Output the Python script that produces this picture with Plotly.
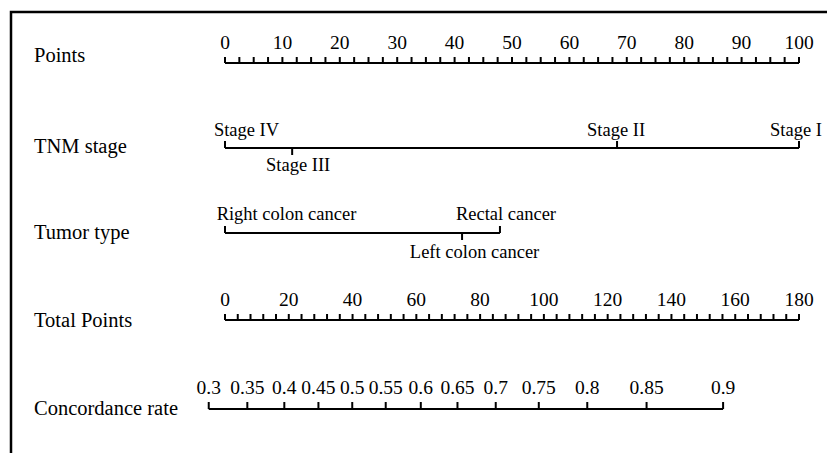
import plotly.graph_objects as go
import numpy as np

# ---------------- data ----------------
row_labels = ["Points", "TNM stage", "Tumor type", "Total Points", "Concordance rate"]

points_labels = [0, 10, 20, 30, 40, 50, 60, 70, 80, 90, 100]
points_minor_step = 2.5

tnm_levels = ["Stage IV", "Stage III", "Stage II", "Stage I"]
tnm_points = [0, 11.7, 68.3, 100]

tumor_levels = ["Right colon cancer", "Left colon cancer", "Rectal cancer"]
tumor_points = [0, 41.3, 47.9]

total_labels = [0, 20, 40, 60, 80, 100, 120, 140, 160, 180]
total_minor_step = 4
total_max = 180

conc_labels = ["0.3", "0.35", "0.4", "0.45", "0.5", "0.55", "0.6", "0.65", "0.7", "0.75", "0.8", "0.85", "0.9"]
conc_total_points = [-5.1, 7.0, 18.6, 29.3, 39.9, 50.4, 61.4, 72.9, 84.9, 98.4, 113.6, 132.2, 156.2]

# ---------------- layout constants (pixels) ----------------
W, H = 827, 453
X0_PX, X100_PX = 225, 799
PX_PER_PT = (X100_PX - X0_PX) / 100.0
FONT = "Liberation Serif"
LBL_SIZE = 20.5
TICK_SIZE = 19.5
CAT_SIZE = 18.5
LW = 2

row_y = {"Points": 63, "TNM stage": 148, "Tumor type": 233, "Total Points": 320, "Concordance rate": 409}
row_label_y = {"Points": 57, "TNM stage": 148, "Tumor type": 234, "Total Points": 322, "Concordance rate": 410}
ROW_LABEL_X = 34

# label centre offsets in px for categorical labels, and above(-1)/below(+1)
tnm_label_dx = [21.5, 6, -1, -3]
tnm_label_side = [-1, 1, -1, -1]
tumor_label_dx = [61.5, 12.5, 6]
tumor_label_side = [-1, 1, -1]


def pxdx(d):
    return d / PX_PER_PT


def tp2pts(tp):
    return np.asarray(tp, dtype=float) * 100.0 / total_max


fig = go.Figure()


def add_line(x0, x1, y):
    fig.add_trace(go.Scatter(x=[x0, x1], y=[y, y], mode="lines",
                             line=dict(color="black", width=LW), hoverinfo="skip", showlegend=False))


def add_ticks(xs, y, length):
    xx, yy = [], []
    for x in xs:
        xx += [x, x, None]
        yy += [y, y + length, None]
    fig.add_trace(go.Scatter(x=xx, y=yy, mode="lines",
                             line=dict(color="black", width=LW), hoverinfo="skip", showlegend=False))


def add_text(xs, ys, texts, size=TICK_SIZE, pos="middle center"):
    fig.add_trace(go.Scatter(x=xs, y=ys, text=texts, mode="text", textposition=pos,
                             textfont=dict(family=FONT, size=size, color="black"),
                             hoverinfo="skip", showlegend=False))


# Points axis
y = row_y["Points"]
add_line(0, 100, y)
add_ticks(np.arange(0, 100 + 1e-9, points_minor_step), y, -6)
add_text(points_labels, [y - 18.5] * len(points_labels), [str(v) for v in points_labels])

# TNM stage
y = row_y["TNM stage"]
add_line(min(tnm_points), max(tnm_points), y)
for p, s in zip(tnm_points, tnm_label_side):
    add_ticks([p], y, 7 * s)
add_text([p + pxdx(d) for p, d in zip(tnm_points, tnm_label_dx)],
         [y + (18 if s > 0 else 17) * s for s in tnm_label_side], tnm_levels, size=CAT_SIZE)

# Tumor type
y = row_y["Tumor type"]
add_line(min(tumor_points), max(tumor_points), y)
for p, s in zip(tumor_points, tumor_label_side):
    add_ticks([p], y, 7 * s)
add_text([p + pxdx(d) for p, d in zip(tumor_points, tumor_label_dx)],
         [y + (20 if s > 0 else 18) * s for s in tumor_label_side], tumor_levels, size=CAT_SIZE)

# Total points
y = row_y["Total Points"]
add_line(0, 100, y)
add_ticks(tp2pts(np.arange(0, total_max + 1e-9, total_minor_step)), y, -6)
add_text(tp2pts(total_labels), [y - 18.5] * len(total_labels), [str(v) for v in total_labels])

# Concordance rate
y = row_y["Concordance rate"]
cx = tp2pts(conc_total_points)
add_line(cx[0], cx[-1], y)
add_ticks(cx, y, -7)
add_text(cx, [y - 19.5] * len(cx), conc_labels)

# Row labels
add_text([pxdx(ROW_LABEL_X - X0_PX)] * len(row_labels), [row_label_y[r] for r in row_labels],
         row_labels, size=LBL_SIZE, pos="middle right")

fig.update_layout(
    width=W, height=H,
    margin=dict(l=0, r=0, t=0, b=0),
    paper_bgcolor="white", plot_bgcolor="white",
    xaxis=dict(range=[pxdx(0 - X0_PX), pxdx(W - X0_PX)], visible=False, fixedrange=True),
    yaxis=dict(range=[H, 0], visible=False, fixedrange=True),
    shapes=[dict(type="path", xref="paper", yref="paper",
                 path=f"M {11/W} 0 L {11/W} {1-12/H} L 1 {1-12/H}",
                 line=dict(color="black", width=2.5))],
)

fig.write_html("out.html")
